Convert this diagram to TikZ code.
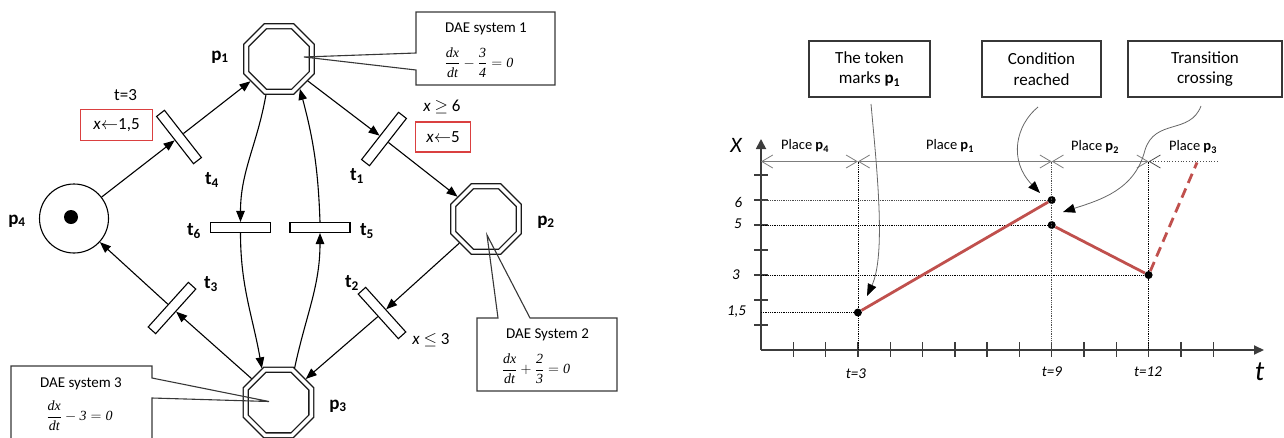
\documentclass[tikz,border=0pt]{standalone}
\usepackage{fontspec}
\setmainfont{Carlito}
\newfontfamily\eqfont{Liberation Serif}
\usetikzlibrary{shapes.geometric,arrows.meta}

\definecolor{redline}{RGB}{192,80,77}
\definecolor{redbox}{RGB}{218,64,64}
\definecolor{axisgray}{RGB}{60,60,60}
\definecolor{ivgray}{RGB}{125,125,125}
\definecolor{boxgray}{RGB}{55,55,55}

\newcommand\ev[1]{\mbox{\eqfont\itshape #1}}
\newcommand\pl[1]{\textbf{p\textsubscript{#1}}}
\newcommand\fs[1]{\fontsize{#1}{#1}\selectfont}

\tikzset{
  place/.style={regular polygon, regular polygon sides=8, minimum size=71pt,
    inner sep=0pt, draw=black!90, line width=1.3pt, double=white,
    double distance=3.6pt, outer sep=3.1pt},
  plainplace/.style={circle, draw, minimum size=69pt, inner sep=0pt, line width=1.1pt},
  token/.style={circle, fill=black, minimum size=14pt, inner sep=0pt},
  bar/.style={draw, rectangle, minimum width=60pt, minimum height=10pt,
    inner sep=0pt, line width=1.1pt, fill=white},
  arc/.style={line width=1.1pt, -{Triangle[length=11pt,width=8.5pt]}},
  lbl/.style={inner sep=0pt, font=\fs{19}\bfseries},
  guard/.style={inner sep=0pt, font=\fs{17}},
  assign/.style={draw=redbox, line width=1.2pt, inner sep=0pt, font=\fs{17}},
  dae/.style={draw=boxgray, line width=1.1pt},
  daetext/.style={inner sep=0pt, font=\fs{15}},
  eqn/.style={inner sep=0pt, font=\fs{14}},
  axis/.style={draw=axisgray, line width=1.8pt},
  tick/.style={draw=axisgray, line width=1.4pt},
  dotl/.style={line width=0.8pt, densely dotted},
  ivl/.style={draw=ivgray, line width=0.8pt},
  barbs/.style={arrows={Straight Barb[length=11pt,width=13pt]-Straight Barb[length=11pt,width=13pt]}},
  lbarb/.style={arrows={Straight Barb[length=11pt,width=13pt]-}},
  note/.style={draw=boxgray, line width=1.2pt, minimum height=56pt, inner sep=0pt,
    align=center, font=\fs{17}\linespread{1.2}\selectfont},
  pointer/.style={draw=black!60, line width=0.8pt, -{Triangle[length=12pt,width=9pt,black]}},
  dot/.style={circle, fill=black, minimum size=8pt, inner sep=0pt},
  redl/.style={draw=redline, line width=2.8pt},
  axlbl/.style={inner sep=0pt, font=\fs{15}\itshape},
}

\begin{document}
\begin{tikzpicture}[x=1pt,y=-1pt]
\useasboundingbox (0,0) rectangle (1284,437);

% ---------------- Petri net ----------------
\node[place] (p1) at (279,59) {};
\node[place] (p2) at (486,219) {};
\node[place] (p3) at (278.5,402.5) {};
\node[plainplace] (p4) at (74,218.5) {};
\node[token] (tok) at (71,217) {};

\node[bar, rotate=-52] (t4) at (179,137) {};
\node[bar, rotate=52]  (t1) at (384,139) {};
\node[bar, rotate=48]  (t3) at (172,308) {};
\node[bar, rotate=-48] (t2) at (382,313) {};
\node[bar] (t6) at (240.5,227.5) {};
\node[bar] (t5) at (320,227.5) {};

\draw[arc] (p4) -- (t4);
\draw[arc] (t4) -- (p1);
\draw[arc] (p1) -- (t1);
\draw[arc] (t1) -- (p2);
\draw[arc] (p2) -- (t2);
\draw[arc] (t2) -- (p3);
\draw[arc] (p3) -- (t3);
\draw[arc] (t3) -- (p4);
\draw[arc] (p1.-110) to[out=-100,in=90] (t6.north);
\draw[arc] (t6.south) to[out=-90,in=100] (p3.116);
\draw[arc] (p3.65) to[out=78,in=-90] (t5.south);
\draw[arc] (t5.north) to[out=92,in=-75] (p1.-55);

% labels of places and transitions
\node[lbl] (lp1) at (220,57) {p\textsubscript{1}};
\node[lbl] (lp2) at (546,222) {p\textsubscript{2}};
\node[lbl] (lp3) at (338,406) {p\textsubscript{3}};
\node[lbl] (lp4) at (17,221) {p\textsubscript{4}};
\node[lbl] (lt4) at (212,180) {t\textsubscript{4}};
\node[lbl] (lt1) at (357,176) {t\textsubscript{1}};
\node[lbl] (lt3) at (211,284) {t\textsubscript{3}};
\node[lbl] (lt2) at (352,283) {t\textsubscript{2}};
\node[lbl] (lt6) at (194,231) {t\textsubscript{6}};
\node[lbl] (lt5) at (367,231) {t\textsubscript{5}};

% guards and assignments
\node[guard] (g4) at (125.5,95.5) {t=3};
\node[assign, minimum width=72pt, minimum height=31pt] (a4) at (116.5,125) {\textit{x}$\leftarrow$1,5};
\node[guard] (g1) at (442,107) {\textit{x} $\geq$ 6};
\node[assign, minimum width=55pt, minimum height=30pt] (a1) at (443,137) {\textit{x}$\leftarrow$5};
\node[guard] (g2) at (431,340) {\textit{x} $\leq$ 3};

% DAE callouts
\coordinate (c1a) at (304,57);
\draw[dae] (416,53) -- (c1a) -- (416,70) -- (416,85) -- (555,85) -- (555,12) -- (416,12) -- cycle;
\node[daetext] (dae1) at (486,29) {DAE system 1};
\node[eqn] (eq1) at (479,62.5) {$\displaystyle\frac{\ev{dx}}{\ev{dt}}-\frac{\ev{3}}{\ev{4}}=\ev{0}$};

\coordinate (c2a) at (487,235);
\draw[dae] (498,318) -- (c2a) -- (530,318) -- (617,318) -- (617,391) -- (477,391) -- (477,318) -- cycle;
\node[daetext] (dae2) at (547.5,335) {DAE System 2};
\node[eqn] (eq2) at (536,369) {$\displaystyle\frac{\ev{dx}}{\ev{dt}}+\frac{\ev{2}}{\ev{3}}=\ev{0}$};

\coordinate (c3a) at (269,401.5);
\draw[dae] (11,440) -- (11,366) -- (152,366) -- (152,378) -- (c3a) -- (152,398) -- (152,440);
\node[daetext] (dae3) at (81,384) {DAE system 3};
\node[eqn] (eq3) at (79.5,416) {$\displaystyle\frac{\ev{dx}}{\ev{dt}}-\ev{3}=\ev{0}$};

% ---------------- Time chart ----------------
\coordinate (O) at (761,350);
\coordinate (ytop) at (761,139);
\coordinate (tend) at (1264,350);
\draw[axis, -{Triangle[length=10pt,width=10pt]}] (O) -- (ytop);
\draw[axis, -{Triangle[length=10pt,width=9pt]}] (O) -- (tend);
\foreach \k in {1,...,14}
  \draw[tick] ({761+32.3*\k},342) -- ({761+32.3*\k},357);
\foreach \v in {1,...,7}
  \draw[tick] (754,{350-25*\v}) -- (768,{350-25*\v});

\node[inner sep=0pt, font=\fs{22}\itshape] (lx) at (736,145.5) {X};
\node[inner sep=0pt, font=\fs{28}\itshape] (lt) at (1259.5,372) {t};

% data points
\node[dot] (d1) at (857.9,312.5) {};
\node[dot] (d2) at (1051.7,200) {};
\node[dot] (d3) at (1051.7,225) {};
\node[dot] (d4) at (1148.6,275) {};
\coordinate (dend) at (1197,162.5);

% interval marks on top
\coordinate (i0) at (761,161.5);
\coordinate (i1) at (857.9,161.5);
\coordinate (i2) at (1051.7,161.5);
\coordinate (i3) at (1148.6,161.5);
\coordinate (i4) at (1219,161.5);
\coordinate (a3) at (857.9,350);
\coordinate (a9) at (1051.7,350);
\coordinate (a12) at (1148.6,350);

\draw[dotl] (i1) -- (a3);
\draw[dotl, black!70] (i2) -- (a9);
\draw[dotl] (i3) -- (a12);
\draw[dotl, black!70] (761,200) -- (d2);
\draw[dotl] (761,225) -- (d3);
\draw[dotl] (761,275) -- (d4);
\draw[dotl] (761,312.5) -- (d1);

\draw[ivl, barbs] (i0) -- (i1);
\draw[ivl, barbs] (i1) -- (i2);
\draw[ivl, barbs] (i2) -- (i3);
\draw[ivl, lbarb, dotted, draw=black!70] (i3) -- (i4);

\node[inner sep=0pt, font=\fs{14.5}] (pp4) at (805,146) {Place \pl{4}};
\node[inner sep=0pt, font=\fs{14.5}] (pp1) at (950,146) {Place \pl{1}};
\node[inner sep=0pt, font=\fs{14.5}] (pp2) at (1095,147) {Place \pl{2}};
\node[inner sep=0pt, font=\fs{14.5}] (pp3) at (1193,147) {Place \pl{3}};

% trajectory
\draw[redl] (d1) -- (d2);
\draw[redl] (d3) -- (d4);
\draw[redl, dash pattern=on 10pt off 6pt] (d4) -- (dend);

% axis values
\node[axlbl] (v6) at (738.5,202) {6};
\node[axlbl] (v5) at (738,224) {5};
\node[axlbl] (v3) at (736,275) {3};
\node[axlbl] (v15) at (736.5,312) {1,5};
\node[axlbl] (s3) at (856,374) {t=3};
\node[axlbl] (s9) at (1052,372) {t=9};
\node[axlbl] (s12) at (1148,372) {t=12};

% annotation boxes
\node[note, minimum width=121pt] (n1) at (869.5,69) {The token\\marks \pl{1}};
\node[note, minimum width=119pt] (n2) at (1041.5,69) {Condition\\reached};
\node[note, minimum width=154pt] (n3) at (1205,69) {Transition\\crossing};

\coordinate (k1s) at (871,104);
\coordinate (k1e) at (867,296);
\coordinate (k2s) at (1038,107);
\coordinate (k2e) at (1040,193);
\coordinate (k3s) at (1201,106);
\coordinate (k3e) at (1063,212);
\draw[pointer] (k1s) .. controls (877,170) and (886,255) .. (k1e);
\draw[pointer] (k2s) .. controls (1016,125) and (1008,160) .. (k2e);
\draw[pointer] (k3s) .. controls (1190,135) and (1155,118) .. (1145,150)
  .. controls (1135,190) and (1100,200) .. (k3e);
\end{tikzpicture}
\end{document}
